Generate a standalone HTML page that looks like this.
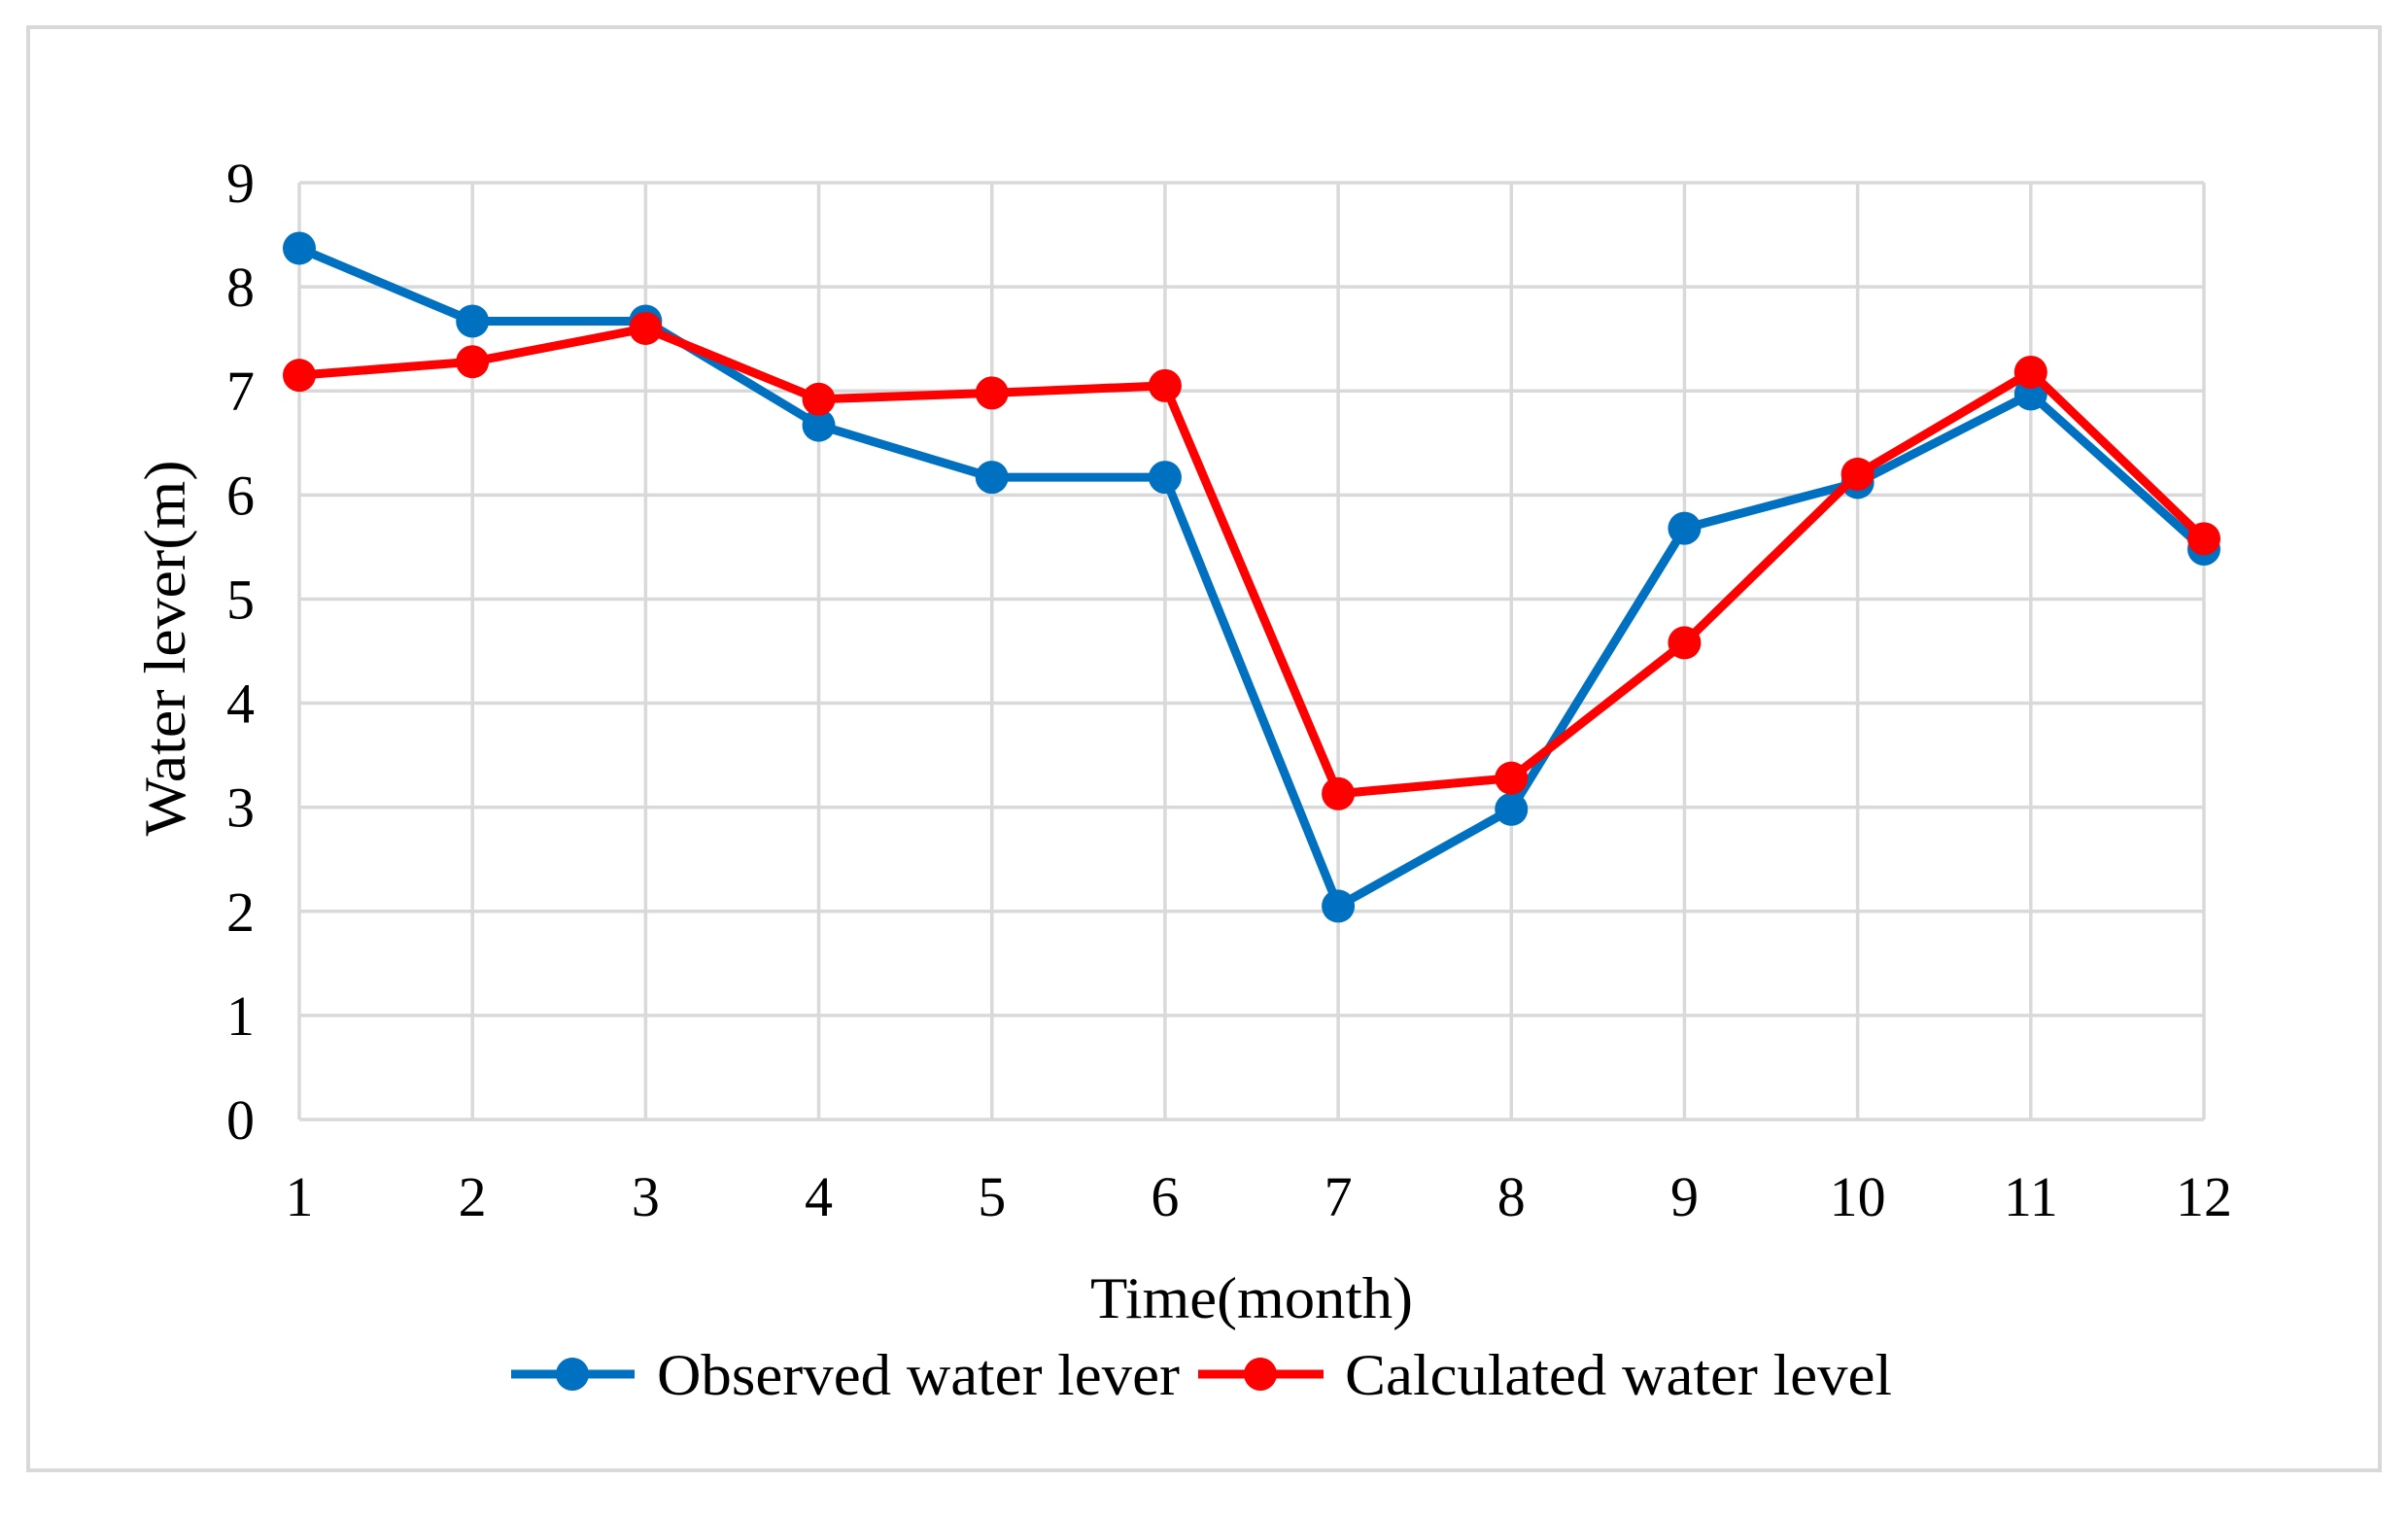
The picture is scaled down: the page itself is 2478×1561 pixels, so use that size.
<!DOCTYPE html>
<html><head><meta charset="utf-8"><style>html,body{margin:0;padding:0;background:#fff}</style></head>
<body>
<svg width="2478" height="1556" xmlns="http://www.w3.org/2000/svg" font-family="Liberation Serif, serif">
<rect x="0" y="0" width="2478" height="1556" fill="#fff"/>
<rect x="29" y="28" width="2420" height="1485" fill="none" stroke="#d9d9d9" stroke-width="4"/>
<g id="grid" stroke="#d9d9d9" stroke-width="3.5"></g>
<g id="lab" font-size="58" fill="#000"></g>
<text x="1288" y="1356" font-size="60" text-anchor="middle" textLength="332" lengthAdjust="spacingAndGlyphs">Time(month)</text>
<text transform="translate(190,667) rotate(-90)" font-size="60" text-anchor="middle" textLength="387" lengthAdjust="spacingAndGlyphs">Water lever(m)</text>
<line x1="526" y1="1414" x2="653" y2="1414" stroke="#0070c0" stroke-width="9"/>
<circle cx="589" cy="1414" r="17" fill="#0070c0"/>
<text x="676" y="1435" font-size="60" textLength="538" lengthAdjust="spacingAndGlyphs">Observed water lever</text>
<line x1="1233" y1="1414" x2="1362" y2="1414" stroke="#ff0000" stroke-width="9"/>
<circle cx="1297" cy="1414" r="17" fill="#ff0000"/>
<text x="1384" y="1435" font-size="60" textLength="563" lengthAdjust="spacingAndGlyphs">Calculated water level</text>
<g id="series"></g>
<script>
var L=308,R=2268,T=188,B=1152,ns="http://www.w3.org/2000/svg";
function X(i){return L+(R-L)*(i)/11}
function Y(v){return B-(B-T)*v/9}
var g=document.getElementById('grid'),lab=document.getElementById('lab'),s=document.getElementById('series');
function el(t,a,p){var e=document.createElementNS(ns,t);for(var k in a)e.setAttribute(k,a[k]);p.appendChild(e);return e}
for(var v=0;v<=9;v++){el('line',{x1:L,x2:R,y1:Y(v),y2:Y(v)},g);var t=el('text',{x:262,y:Y(v)+20,'text-anchor':'end'},lab);t.textContent=v}
for(var i=0;i<12;i++){el('line',{x1:X(i),x2:X(i),y1:T,y2:B},g);var t=el('text',{x:X(i),y:1251,'text-anchor':'middle'},lab);t.textContent=i+1}
function ser(d,c){var p=d.map(function(v,i){return X(i)+','+Y(v)}).join(' ');
el('polyline',{points:p,fill:'none',stroke:c,'stroke-width':9,'stroke-linejoin':'round'},s);
d.forEach(function(v,i){el('circle',{cx:X(i),cy:Y(v),r:17,fill:c},s)})}
ser([8.37,7.67,7.67,6.67,6.17,6.17,2.05,2.98,5.68,6.12,6.97,5.48],'#0070c0');
ser([7.15,7.28,7.6,6.92,6.98,7.05,3.13,3.28,4.58,6.2,7.18,5.58],'#ff0000');
</script>
</svg>
</body></html>
